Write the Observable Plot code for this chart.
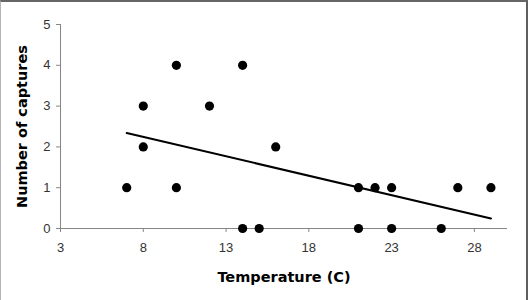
<!DOCTYPE html>
<html>
<head>
<meta charset="utf-8">
<script src="https://cdn.jsdelivr.net/npm/d3@7"></script>
<script src="https://cdn.jsdelivr.net/npm/@observablehq/plot@0.6"></script>
<style>
  html, body { margin: 0; padding: 0; background: #fff; }
  #wrap { position: relative; width: 528px; height: 300px; overflow: hidden; }
  #wrap svg { display: block; }
  #edge {
    position: absolute; left: 0; top: 0; width: 528px; height: 300px;
    box-sizing: border-box; pointer-events: none;
    border-top: 2px solid #666;
    border-left: 1px solid #b4b4b4;
    border-right: 2px solid #5e5e5e;
  }
</style>
</head>
<body>
<div id="wrap"><div id="edge"></div></div>
<script>
// Captures per night against air temperature
const temperature = [7, 8, 8, 10, 10, 12, 14, 14, 15, 16, 21, 21, 22, 23, 23, 26, 27, 29];
const captures    = [1, 3, 2, 4, 1, 3, 4, 0, 0, 2, 1, 0, 1, 1, 0, 0, 1, 1];
const xTicks = [3, 8, 13, 18, 23, 28];
const yTicks = [0, 1, 2, 3, 4, 5];
const xTitle = "Temperature (C)";
const yTitle = "Number of captures";

const rows = temperature.map((t, i) => ({temperature: t, captures: captures[i]}));

const axisGray = "#868686";
const tickText = "#333";
const titleFont = "'DejaVu Sans', Verdana, sans-serif";

const chart = Plot.plot({
  width: 528,
  height: 300,
  marginLeft: 60,
  marginRight: 21,
  marginTop: 24,
  marginBottom: 72,
  style: {fontFamily: "'Liberation Sans', Arial, sans-serif", fontSize: "13px", background: "transparent"},
  x: {domain: [3, 30]},
  y: {domain: [0, 5]},
  marks: [
    Plot.axisX({ticks: xTicks, tickFormat: d3.format("d"), tickSize: 4, tickPadding: 10, stroke: axisGray, color: tickText, label: null, fontSize: 13}),
    Plot.axisY({ticks: yTicks, tickFormat: d3.format("d"), tickSize: 4, tickPadding: 6, stroke: axisGray, color: tickText, label: null, fontSize: 13}),
    Plot.ruleY([0], {stroke: axisGray, strokeWidth: 1}),
    Plot.ruleX([3], {stroke: axisGray, strokeWidth: 1}),
    Plot.linearRegressionY(rows, {x: "temperature", y: "captures", ci: 0, stroke: "#000", strokeWidth: 2}),
    Plot.dot(rows, {x: "temperature", y: "captures", r: 4.6, fill: "#000", stroke: "none"}),
    Plot.text([xTitle], {frameAnchor: "bottom", dy: 53, textAnchor: "middle", fontFamily: titleFont, fontWeight: "bold", fontSize: 14.5, fill: "#000"}),
    Plot.text([yTitle], {frameAnchor: "left", dx: -38, rotate: -90, textAnchor: "middle", fontFamily: titleFont, fontWeight: "bold", fontSize: 14.5, fill: "#000"})
  ]
});

document.getElementById("wrap").prepend(chart);
</script>
</body>
</html>
